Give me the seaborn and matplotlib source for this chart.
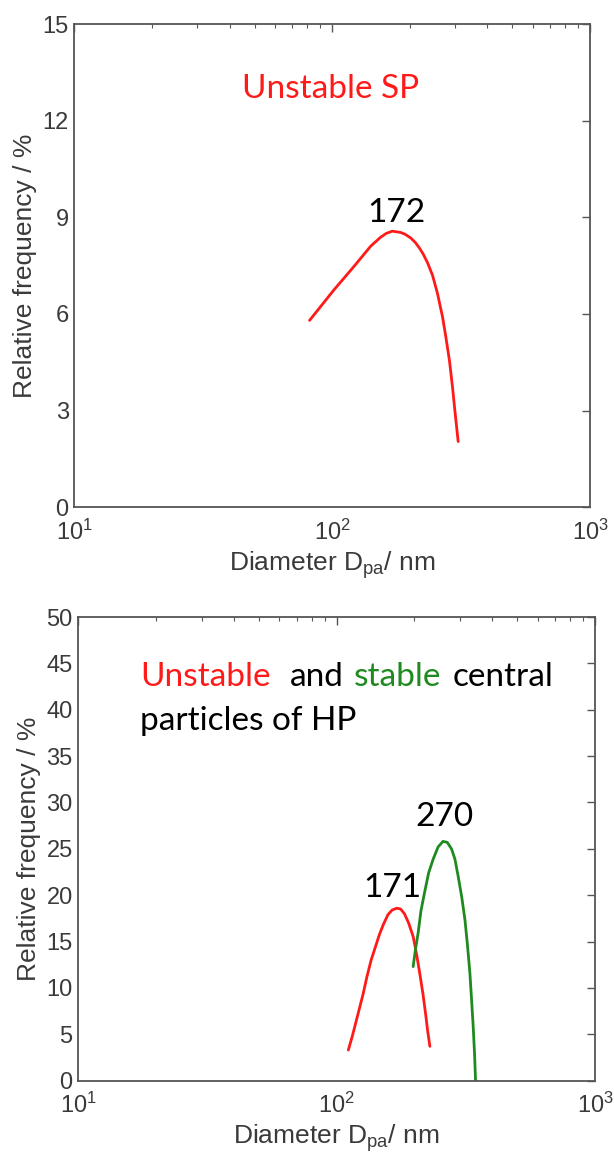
import matplotlib
matplotlib.use('Agg')
import matplotlib.pyplot as plt
import seaborn as sns
import pandas as pd
from matplotlib.ticker import LogLocator, MultipleLocator, NullFormatter

# top panel: unstable SP
sp_diam = [81.7, 101.4, 110, 121.3, 130, 140.9, 154, 162, 171, 184.4, 192, 201.6, 210,
           217, 225, 234, 245, 256, 268, 276, 285, 293, 300, 308]
sp_freq = [5.80, 6.74, 7.07, 7.47, 7.76, 8.10, 8.38, 8.50, 8.57, 8.53, 8.47, 8.36, 8.22,
           8.07, 7.87, 7.60, 7.20, 6.64, 5.90, 5.28, 4.55, 3.71, 2.90, 2.04]

# bottom panel: central particles of HP
hp_unstable_diam = [111, 115, 119, 126.5, 131, 136, 146.6, 152, 158, 164, 171, 177, 183,
                    190, 198, 204, 210, 216, 221, 225, 229.6]
hp_unstable_freq = [3.3, 4.8, 6.4, 9.3, 11.2, 13.0, 15.8, 16.9, 17.9, 18.4, 18.6, 18.5, 18.0,
                    17.0, 15.5, 13.6, 11.5, 9.3, 7.2, 5.4, 3.7]
hp_stable_diam = [197.8, 202, 206.7, 212, 219, 227, 236.5, 247, 258, 268, 278.4, 287,
                  295.6, 305, 314, 321, 328, 333, 338, 342, 345]
hp_stable_freq = [12.3, 14.2, 15.9, 18.3, 20.3, 22.4, 23.9, 25.2, 25.8, 25.7, 25.0, 23.9,
                  22.0, 19.8, 17.3, 14.6, 11.6, 8.7, 5.7, 2.8, 0.0]

RED = '#ff1a1a'
GREEN = '#1f8a1f'
GRAY = '#3a3a3a'
ANN_FONT = 'Lato'
ANN_SIZE = 24

sns.set_theme(style='white')
plt.rcParams['font.family'] = ['Liberation Sans', 'DejaVu Sans']
plt.rcParams['mathtext.fontset'] = 'custom'
plt.rcParams['mathtext.rm'] = 'Liberation Sans'
plt.rcParams['mathtext.it'] = 'Liberation Sans'


def style_axes(ax, ymax, ystep):
    ax.set_xscale('log')
    ax.set_xlim(10, 1000)
    ax.set_ylim(0, ymax)
    ax.yaxis.set_major_locator(MultipleLocator(ystep))
    ax.xaxis.set_major_locator(LogLocator(base=10))
    ax.xaxis.set_minor_locator(LogLocator(base=10, subs=range(2, 10)))
    ax.xaxis.set_minor_formatter(NullFormatter())
    for s in ax.spines.values():
        s.set_visible(True)
        s.set_color('#555555')
        s.set_linewidth(1.3)
    ax.tick_params(which='both', direction='in', top=True, right=True,
                   color='#555555', labelcolor=GRAY, labelsize=17)
    ax.tick_params(which='major', length=6, width=1.0, pad=4)
    ax.tick_params(which='minor', length=3, width=0.8)
    ax.tick_params(axis='x', pad=9)
    ax.set_xlabel('Diameter D$_{\\mathrm{pa}}$/ nm', fontsize=19, color=GRAY, labelpad=3)
    ax.set_ylabel('Relative frequency / %', fontsize=19, color=GRAY, labelpad=4)


fig = plt.figure(figsize=(6.14, 11.6), dpi=100)
ax1 = fig.add_axes([0.121, 0.5627, 0.840, 0.4166])
ax2 = fig.add_axes([0.1275, 0.0684, 0.8415, 0.3997])

df_sp = pd.DataFrame({'diam': sp_diam, 'freq': sp_freq})
sns.lineplot(data=df_sp, x='diam', y='freq', ax=ax1, color=RED, lw=2, sort=False)
style_axes(ax1, 15, 3)
ax1.text(0.496, 0.8475, 'Unstable SP', transform=ax1.transAxes, color=RED,
         fontsize=ANN_SIZE, family=ANN_FONT, ha='center', va='baseline')
ax1.text(178, 8.86, '172', color='black', fontsize=ANN_SIZE, family=ANN_FONT,
         ha='center', va='baseline')

df_u = pd.DataFrame({'diam': hp_unstable_diam, 'freq': hp_unstable_freq})
df_s = pd.DataFrame({'diam': hp_stable_diam, 'freq': hp_stable_freq})
sns.lineplot(data=df_u, x='diam', y='freq', ax=ax2, color=RED, lw=2, sort=False)
sns.lineplot(data=df_s, x='diam', y='freq', ax=ax2, color=GREEN, lw=2, sort=False)
style_axes(ax2, 50, 5)

words = [('Unstable', RED, 0.1194), ('and', 'black', 0.4094),
         ('stable', GREEN, 0.5336), ('central', 'black', 0.7252)]
for w, c, xf in words:
    ax2.text(xf, 0.851, w, transform=ax2.transAxes, color=c, fontsize=ANN_SIZE,
             family=ANN_FONT, ha='left', va='baseline')
ax2.text(0.1194, 0.7565, 'particles of HP', transform=ax2.transAxes, color='black',
         fontsize=ANN_SIZE, family=ANN_FONT, ha='left', va='baseline')
ax2.text(164.7, 19.83, '171', color='black', fontsize=ANN_SIZE, family=ANN_FONT,
         ha='center', va='baseline')
ax2.text(262, 27.46, '270', color='black', fontsize=ANN_SIZE, family=ANN_FONT,
         ha='center', va='baseline')

fig.savefig('out.png', dpi=100)
